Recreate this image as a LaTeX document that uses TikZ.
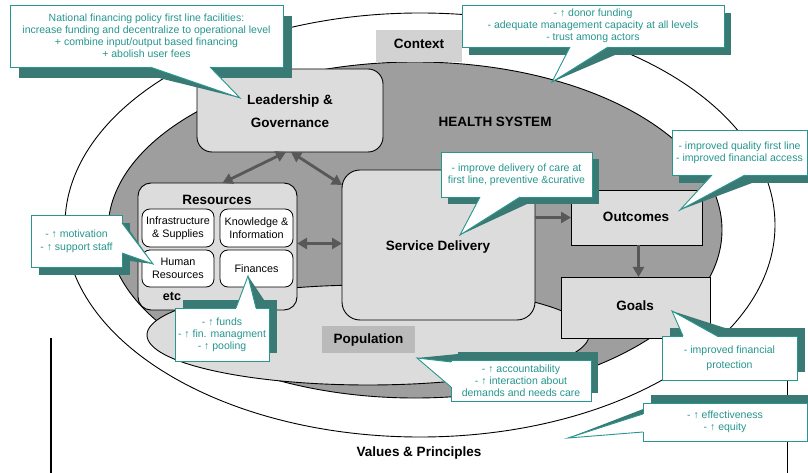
\documentclass[tikz,border=0pt]{standalone}
\usepackage{fontspec}
\setmainfont{Liberation Sans}
\usetikzlibrary{arrows.meta,calc,shapes.geometric}
\definecolor{tealtext}{RGB}{38,150,142}
\definecolor{tealshadow}{RGB}{58,122,117}
\definecolor{hsgray}{RGB}{158,158,158}
\definecolor{lightdot}{RGB}{220,220,220}
\definecolor{ctxgray}{RGB}{210,210,210}
\definecolor{popgray}{RGB}{186,186,186}
\definecolor{arrowgray}{RGB}{88,88,88}
% #1 name, #2 centre, #3 width, #4 height, #5 shadow shift, #6 base1, #7 base2, #8 tip, #9 text
\newcommand\mycallout[9]{%
  \coordinate (#1tip) at #8;
  \begin{scope}[shift={#5}]
    \node[fill=tealshadow, minimum width=#3bp, minimum height=#4bp] at #2 {};
    \fill[tealshadow] #6 -- #7 -- cycle;
  \end{scope}
  \fill[tealshadow] ($#6+#5$) -- (#1tip) -- ($#7+#5$) -- cycle;
  \node[callbox, minimum width=#3bp, minimum height=#4bp] (#1) at #2 {#9};
  \fill[white] #6 -- (#1tip) -- #7 -- cycle;
  \draw[white, line width=1.6bp] #6 -- #7;
  \draw[tealtext, line width=0.9bp] #6 -- (#1tip) -- #7;
}
\begin{document}
\begin{tikzpicture}[x=1bp,y=-1bp,
  every node/.style={inner sep=0pt, outer sep=0pt},
  lbl/.style={font=\fontsize{13.5bp}{16bp}\selectfont\bfseries, text=black, align=center},
  graybox/.style={draw=black, line width=0.9bp, fill=lightdot, rounded corners=15bp},
  sqbox/.style={draw=black, line width=0.9bp, fill=lightdot},
  whitebox/.style={draw=black, line width=0.8bp, fill=white, rounded corners=8bp, align=center,
     font=\fontsize{10.8bp}{12.5bp}\selectfont},
  callbox/.style={draw=tealtext, line width=0.9bp, fill=white, text=tealtext, align=center,
     font=\fontsize{10.5bp}{12bp}\selectfont},
  ell/.style={ellipse, draw=black, line width=0.9bp},
  bigone/.style={draw=arrowgray, line width=2.8bp, arrows={-Triangle[length=10bp,width=11bp]}},
  bigboth/.style={draw=arrowgray, line width=2.8bp,
     arrows={Triangle[length=10bp,width=11bp]-Triangle[length=10bp,width=11bp]}}
]
\useasboundingbox (0,0) rectangle (808,473);
\fill[white] (0,0) rectangle (808,473);

% background ellipses
\node[ell, fill=white, minimum width=710bp, minimum height=424bp] (context) at (420,225) {};
\node[ell, fill=hsgray, minimum width=614bp, minimum height=336bp] (hs) at (415,230) {};
\node[ell, fill=lightdot, minimum width=442bp, minimum height=100bp] (pop) at (368,335) {};

% outer frame (values & principles)
\draw[line width=1.6bp] (51,338) -- (51,473);
\draw[line width=1bp] (787,330) -- (787,473);

% labels
\node[fill=ctxgray, minimum width=86bp, minimum height=32bp] (ctxlbl) at (419,46) {};
\node[lbl] (ctxtext) at (419,44) {Context};
\node[fill=popgray, minimum width=93bp, minimum height=27bp] (poplbl) at (368.5,339.5) {};
\node[lbl] (poptext) at (368.5,340) {Population};
\node[lbl] (hstext) at (495,122) {HEALTH SYSTEM};
\node[lbl] (vp) at (419,453) {Values \& Principles};

% main boxes
\node[graybox, minimum width=186bp, minimum height=83bp] (lead) at (290,110.5) {};
\node[lbl, font=\fontsize{13.5bp}{23bp}\selectfont\bfseries] (leadtext) at (290,111) {Leadership \&\\Governance};

\node[graybox, rounded corners=13bp, minimum width=159bp, minimum height=127bp] (res) at (217.5,246.5) {};
\node[lbl] (restext) at (217,200) {Resources};
\node[whitebox, minimum width=72bp, minimum height=38bp] (infra) at (178,228) {Infrastructure\\\& Supplies};
\node[whitebox, minimum width=73bp, minimum height=38bp] (know) at (256.5,228) {Knowledge \&\\Information};
\node[whitebox, minimum width=72bp, minimum height=37bp] (hr) at (178,268.5) {Human\\Resources};
\node[whitebox, minimum width=73bp, minimum height=37bp] (fin) at (256.5,268.5) {Finances};
\node[lbl, font=\fontsize{12.5bp}{14bp}\selectfont\bfseries] (etc) at (172,296) {etc};

\node[graybox, rounded corners=18bp, minimum width=193bp, minimum height=150bp] (sd) at (438.5,245) {};
\node[lbl] (sdtext) at (438,247) {Service Delivery};

\node[sqbox, minimum width=131bp, minimum height=55bp] (out) at (636.5,217.5) {};
\node[lbl] (outtext) at (636,217) {Outcomes};
\node[sqbox, minimum width=149bp, minimum height=61bp] (goals) at (635.5,307.5) {};
\node[lbl] (goalstext) at (635,306) {Goals};

% arrows
\draw[bigboth] ([xshift=-4bp]lead.south) -- ([xshift=5bp]res.north);
\draw[bigboth] ([xshift=1bp]lead.south) -- ([yshift=-15bp]sd.north west);
\draw[bigboth] ([yshift=3bp]res.east) -- ([yshift=3bp]res.east -| sd.west);
\draw[bigone] (out.west -| sd.east) -- (out.west);
\draw[bigone] ([xshift=2bp]out.south) -- ([xshift=2bp]out.south |- goals.north);

% callouts
\mycallout{c1}{(146.5,36)}{273}{62}{(9,11)}{(150,67)}{(210,67)}{(240,98)}
  {National financing policy first line facilities:\\increase funding and decentralize to operational level\\+ combine input/output based financing\\+ abolish user fees}
\mycallout{c2}{(593,26)}{262}{42}{(7,8)}{(570,47)}{(608,47)}{(552,82)}
  {- ↑ donor funding\\- adequate management capacity at all levels\\- trust among actors}
\mycallout{c3}{(76.5,241)}{91}{52}{(8,8)}{(122,223)}{(122,253)}{(153,264)}
  {- ↑ motivation\\[1bp]- ↑ support staff}
\mycallout{c4}{(222,334.5)}{94}{53}{(8,-8)}{(236,308)}{(256,308)}{(248,276)}
  {- ↑ funds\\- ↑ fin. managment\\- ↑ pooling}
\mycallout{c5}{(516.5,174.5)}{151}{45}{(7,7)}{(480,197)}{(520,197)}{(460,235)}
  {- improve delivery of care at\\first line, preventive \&curative}
\mycallout{c6}{(739.5,152.5)}{135}{45}{(7,8)}{(712,175)}{(745,175)}{(680,210)}
  {- improved quality first line\\- improved financial access}
\mycallout{c7}{(729.5,358)}{135}{44}{(8,-8)}{(683,336)}{(717,336)}{(672,311)}
  {- improved financial\\[3bp]protection}
\mycallout{c8}{(521,380.5)}{140}{41}{(7,-8)}{(451,362)}{(451,387)}{(417,358)}
  {- ↑ accountability\\- ↑ interaction about\\demands and needs care}
\mycallout{c9}{(725,422)}{164}{38}{(8,-8)}{(643,414)}{(643,432)}{(568,438)}
  {- ↑ effectiveness\\- ↑ equity}
\end{tikzpicture}
\end{document}
